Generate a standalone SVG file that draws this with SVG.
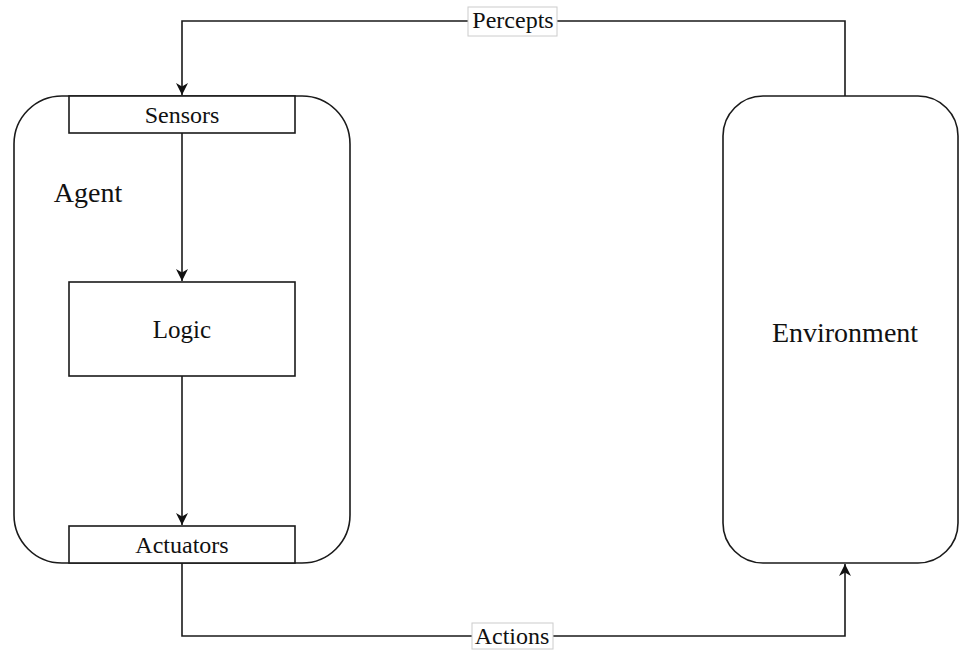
<svg xmlns="http://www.w3.org/2000/svg" width="960" height="650" viewBox="0 0 960 650">
  <style>
    .box { fill: #ffffff; stroke: #1a1a1a; stroke-width: 1.6; }
    .edge { fill: none; stroke: #1a1a1a; stroke-width: 1.6; }
    .lbl { font-family: "Liberation Serif", "Times New Roman", serif; fill: #111111; text-anchor: middle; }
    .tag { fill: #ffffff; stroke: #cccccc; stroke-width: 1; }
  </style>
  <defs>
    <marker id="arrow" viewBox="0 0 10 10" refX="10" refY="5" markerWidth="12" markerHeight="12" markerUnits="userSpaceOnUse" orient="auto">
      <path d="M0,0 L10,5 L0,10 L3,5 Z" fill="#111111"/>
    </marker>
  </defs>
  <rect width="960" height="650" fill="#ffffff"/>

  <g id="agent">
    <rect class="box" x="14" y="96" width="336" height="467" rx="48" ry="48"/>
    <text class="lbl" x="88" y="202" font-size="28">Agent</text>
  </g>

  <g id="environment">
    <rect class="box" x="723" y="96" width="235" height="467" rx="40" ry="40"/>
    <text class="lbl" x="845" y="342" font-size="28">Environment</text>
  </g>

  <g id="sensors">
    <rect class="box" x="69" y="96" width="226" height="37"/>
    <text class="lbl" x="182" y="123" font-size="24">Sensors</text>
  </g>

  <g id="logic">
    <rect class="box" x="69" y="282" width="226" height="94"/>
    <text class="lbl" x="182" y="338" font-size="25">Logic</text>
  </g>

  <g id="actuators">
    <rect class="box" x="69" y="526" width="226" height="37"/>
    <text class="lbl" x="182" y="553" font-size="24">Actuators</text>
  </g>

  <g id="connectors">
    <path class="edge" d="M845,96 L845,21 L182,21 L182,95" marker-end="url(#arrow)"/>
    <path class="edge" d="M182,133 L182,281" marker-end="url(#arrow)"/>
    <path class="edge" d="M182,376 L182,525" marker-end="url(#arrow)"/>
    <path class="edge" d="M182,563 L182,636 L845,636 L845,564" marker-end="url(#arrow)"/>
    <g id="percepts-label">
      <rect class="tag" x="468" y="7" width="89" height="29"/>
      <text class="lbl" x="513" y="28" font-size="24">Percepts</text>
    </g>
    <g id="actions-label">
      <rect class="tag" x="472" y="623" width="81" height="26"/>
      <text class="lbl" x="512" y="644" font-size="24">Actions</text>
    </g>
  </g>
</svg>
